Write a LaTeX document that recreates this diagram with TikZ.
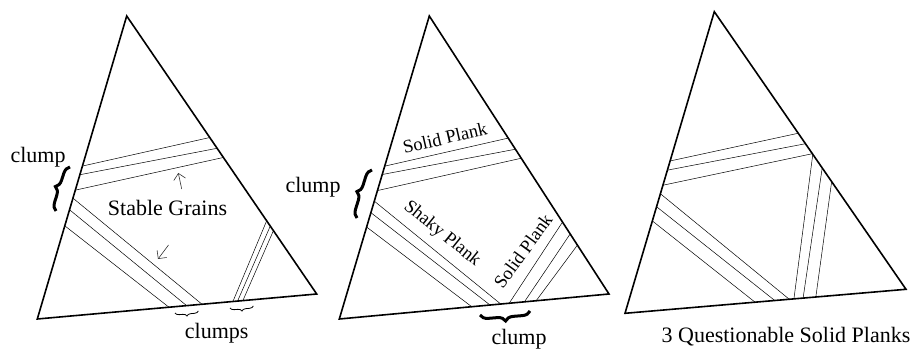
\documentclass[tikz,border=0pt]{standalone}
\usepackage{fontspec}
\setmainfont{Liberation Serif}
\usetikzlibrary{decorations.pathreplacing,arrows.meta}

\tikzset{
  edge/.style={line width=1.6pt, line join=miter},
  plank/.style={line width=0.5pt, shorten <=-6pt, shorten >=-6pt},
  bigbrace/.style={decorate, decoration={brace, amplitude=8pt}, line width=3pt},
  smallbrace/.style={decorate, decoration={brace, amplitude=4pt}, line width=0.8pt},
  lbl/.style={font=\fontsize{22}{26}\selectfont, inner sep=0pt},
  plbl/.style={font=\fontsize{18.5}{22}\selectfont, inner sep=0pt},
  grain/.style={-{Straight Barb[length=6pt,width=12pt]}, line width=0.6pt, black!80}
}

\begin{document}
\begin{tikzpicture}[x=1pt, y=-1pt]
    \useasboundingbox (0,0) rectangle (912,352);

    % Corners
    \coordinate (t1) at (126.7,16);  \coordinate (l1) at (37.3,319);  \coordinate (r1) at (316.7,294);
    \coordinate (t2) at (429.3,16);  \coordinate (l2) at (339.3,319); \coordinate (r2) at (609,294);
    \coordinate (t3) at (714.3,11.7); \coordinate (l3) at (625,313.3); \coordinate (r3) at (906,289.3);

    % Triangle 1: stable grains
    \begin{scope}
        \clip (t1) -- (r1) -- (l1) -- cycle;
        \draw[plank] (82.7,166) -- (209,137.7);
        \draw[plank] (80,174.7) -- (215,148.7);
        \draw[plank] (76,190) -- (221,158);
        \draw[plank] (74,199) -- (201.7,304);
        \draw[plank] (70.7,210.7) -- (186.7,305.7);
        \draw[plank] (66.7,227.3) -- (168.3,306.7);
        \draw[plank] (266.7,220.7) -- (232.7,302);
        \draw[plank] (270,226.7) -- (237.3,301.7);
        \draw[plank] (272.7,232.3) -- (242.7,301);
    \end{scope}
    \draw[edge] (t1) -- (r1) -- (l1) -- cycle;
    \draw[grain] (181.7,189) -- (178.3,173);
    \draw[grain] (168.5,245) -- (158,259);
    \node[lbl] (grains) at (167.5,208) {Stable Grains};
    \draw[bigbrace] (56,211) -- (70,167);
    \node[lbl] (clumpA) at (38,157) {clump};
    \draw[smallbrace] (198.3,311) -- (175,313);
    \draw[smallbrace] (253.3,306) -- (230,308);
    \node[lbl] (clumps) at (216.7,333) {clumps};

    % Triangle 2: solid and shaky planks
    \begin{scope}
        \clip (t2) -- (r2) -- (l2) -- cycle;
        \draw[plank] (386.7,165.7) -- (510,137.7);
        \draw[plank] (385,174) -- (516.7,149);
        \draw[plank] (380,190) -- (522.3,158);
        \draw[plank] (375,201.7) -- (500.7,304);
        \draw[plank] (371.7,213.3) -- (490,305);
        \draw[plank] (368.3,228.3) -- (471.7,306.7);
        \draw[plank] (510,302) -- (565,218.3);
        \draw[plank] (525,301) -- (573.3,229.3);
        \draw[plank] (536.7,300) -- (580.7,240.7);
    \end{scope}
    \draw[edge] (t2) -- (r2) -- (l2) -- cycle;
    \node[plbl, rotate=13] (solidA) at (445,138) {Solid Plank};
    \node[plbl, rotate=-39] (shaky) at (442,234) {Shaky Plank};
    \node[plbl, rotate=54] (solidB) at (523,251) {Solid Plank};
    \draw[bigbrace] (357,218) -- (372,170);
    \node[lbl] (clumpB) at (313,187) {clump};
    \draw[bigbrace] (530,311) -- (480,315);
    \node[lbl] (clumpC) at (519,339) {clump};

    % Triangle 3: three questionable planks
    \begin{scope}
        \clip (t3) -- (r3) -- (l3) -- cycle;
        \draw[plank] (670,161) -- (798,133.3);
        \draw[plank] (668.3,170) -- (804,144);
        \draw[plank] (664,185) -- (811,154);
        \draw[plank] (660.7,194) -- (789.3,299.3);
        \draw[plank] (657.3,207.3) -- (775,300.7);
        \draw[plank] (653.3,221.7) -- (755.7,302.7);
        \draw[plank] (812.7,155) -- (794,298.3);
        \draw[plank] (822,169.3) -- (803.3,296.7);
        \draw[plank] (831.5,182.7) -- (816,295.7);
    \end{scope}
    \draw[edge] (t3) -- (r3) -- (l3) -- cycle;
    \node[lbl] (caption) at (786,337) {3 Questionable Solid Planks};
\end{tikzpicture}
\end{document}
